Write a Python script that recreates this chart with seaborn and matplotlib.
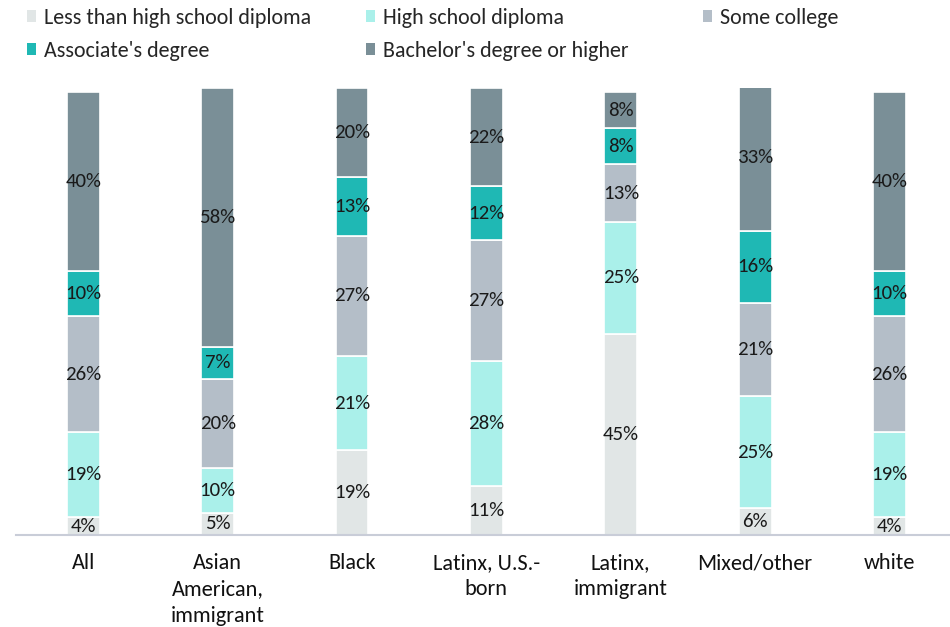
import matplotlib
matplotlib.use("Agg")
import matplotlib.pyplot as plt
from matplotlib.patches import Patch
import seaborn as sns
import pandas as pd

groups = ["All", "Asian\nAmerican,\nimmigrant", "Black", "Latinx, U.S.-\nborn",
          "Latinx,\nimmigrant", "Mixed/other", "white"]
levels = ["Less than high school diploma", "High school diploma", "Some college",
          "Associate's degree", "Bachelor's degree or higher"]
less_than_hs = [4, 5, 19, 11, 45, 6, 4]
hs_diploma = [19, 10, 21, 28, 25, 25, 19]
some_college = [26, 20, 27, 27, 13, 21, 26]
associates = [10, 7, 13, 12, 8, 16, 10]
bachelors = [40, 58, 20, 22, 8, 33, 40]
colors = ["#E1E6E6", "#AAF0EA", "#B4BEC8", "#1FB8B4", "#7A8F97"]

series = [less_than_hs, hs_diploma, some_college, associates, bachelors]
rows = []
for lvl, vals in zip(levels, series):
    for g, v in zip(groups, vals):
        rows.append({"group": g, "level": lvl, "share": v})
df = pd.DataFrame(rows)

sns.set_style("white")
plt.rcParams["font.family"] = ["Carlito", "DejaVu Sans"]

fig = plt.figure(figsize=(9.5, 6.27), dpi=100)
ax = fig.add_axes([16 / 950, 92 / 627, 1 - 16 / 950, 447 / 627])

palette = dict(zip(levels, colors))
# seaborn stacks the first hue level on top, so feed levels top-down
sns.histplot(data=df, x="group", hue="level", weights="share", multiple="stack",
             discrete=True, shrink=0.245, hue_order=levels[::-1], palette=palette,
             alpha=1, edgecolor="white", linewidth=1.2, legend=False, ax=ax)

# segment value labels
for i, g in enumerate(groups):
    base = 0
    for vals in series:
        v = vals[i]
        ax.text(i, base + v / 2, f"{v}%", ha="center", va="center",
                fontsize=15, color="#1a1a1a")
        base += v

ax.set_xlim(-0.5, 6.45)
ax.set_ylim(0, 100)
ax.set_xlabel("")
ax.set_ylabel("")
ax.set_yticks([])
ax.set_xticks(range(len(groups)))
ax.set_xticklabels(groups, fontsize=16, color="#111111", linespacing=1.4,
                   va="top")
ax.tick_params(axis="x", length=0, pad=13)
for side in ["top", "right", "left"]:
    ax.spines[side].set_visible(False)
ax.spines["bottom"].set_color("#C9CDD8")
ax.spines["bottom"].set_linewidth(1.5)

# legend laid out in three fixed-width columns, read row by row
columns = [[0, 3], [1, 4], [2]]
col_x = [12, 351, 688]
for idx, x0 in zip(columns, col_x):
    handles = [Patch(facecolor=colors[k], edgecolor="none", label=levels[k]) for k in idx]
    fig.legend(handles=handles, loc="upper left", bbox_to_anchor=(x0 / 950, 1.012),
               ncol=1, frameon=False, fontsize=15.8, handlelength=0.4,
               handleheight=0.45, handletextpad=0.35, labelspacing=0.6,
               borderpad=0.2)

fig.savefig("out.png", dpi=100)
